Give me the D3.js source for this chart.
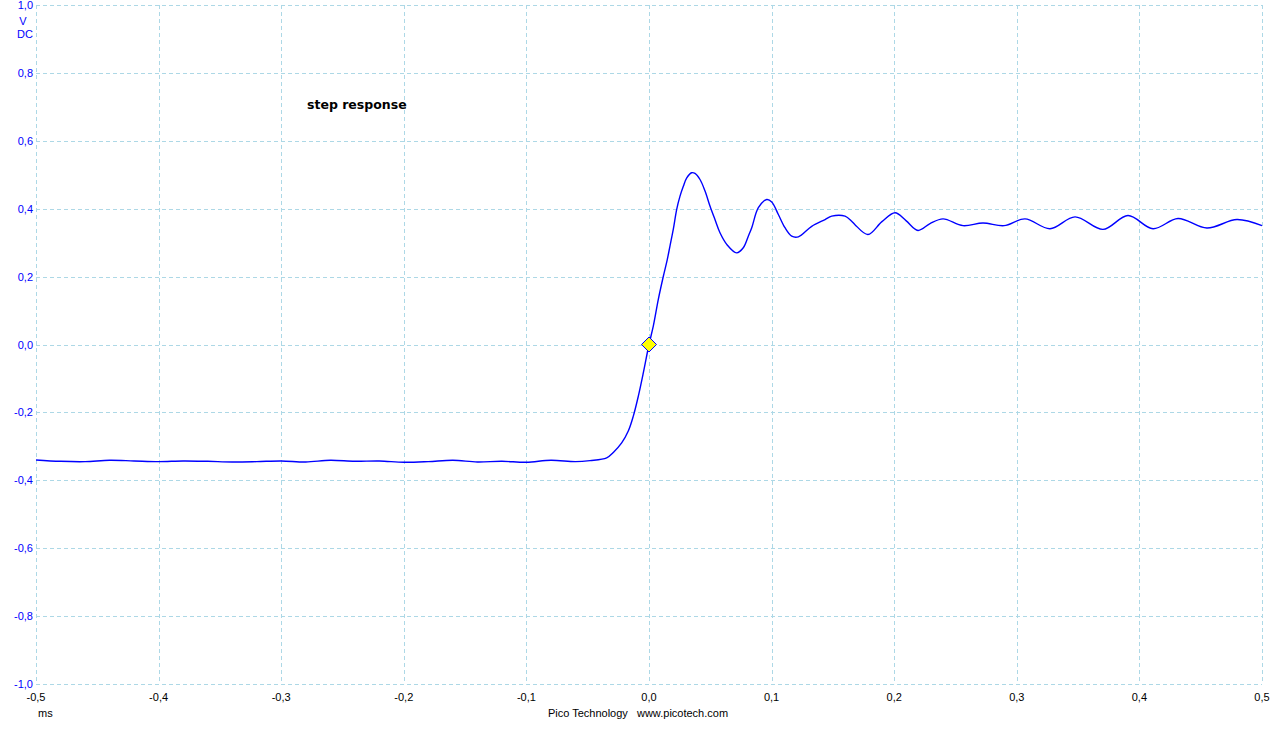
<!DOCTYPE html>
<html>
<head>
<meta charset="utf-8">
<script src="https://cdn.jsdelivr.net/npm/d3@7"></script>
<style>
html,body{margin:0;padding:0;background:#fff;}
svg{display:block;}
</style>
</head>
<body>
<svg id="chart" width="1280" height="732"></svg>
<script>
// ---- data (time in ms, voltage in V) ----
const timeMs = [
  -0.5,-0.48,-0.46,-0.44,-0.42,-0.40,-0.38,-0.36,-0.34,-0.32,-0.30,-0.28,-0.26,-0.24,-0.22,-0.20,
  -0.18,-0.16,-0.14,-0.12,-0.10,-0.08,-0.06,-0.0481,
  -0.0345,-0.0291,-0.0223,-0.0169,-0.0128,-0.0087,-0.0046,0,0.0035,0.0076,0.0117,0.0149,0.0171,
  0.0198,0.0226,0.0253,0.0280,0.0308,0.0348,0.0375,0.0416,0.0457,0.0498,0.0538,0.0579,0.0634,
  0.0715,0.0769,0.0810,0.0838,0.0892,0.0960,0.1001,0.1055,0.1109,0.1164,0.1218,0.1327,0.1436,
  0.1490,0.1599,0.1653,0.1680,0.1786,0.190,0.2007,0.2096,0.2194,0.2292,0.2398,0.2561,0.2724,
  0.2896,0.3067,0.3271,0.3475,0.3703,0.3907,0.4111,0.4315,0.4551,0.4796,0.5
];
const voltage = [
  -0.340,-0.344,-0.345,-0.341,-0.343,-0.345,-0.343,-0.344,-0.346,-0.345,-0.343,-0.346,-0.341,-0.344,-0.343,-0.347,
  -0.345,-0.341,-0.346,-0.344,-0.347,-0.341,-0.345,-0.342,
  -0.334,-0.318,-0.290,-0.255,-0.211,-0.152,-0.083,0.000,0.054,0.133,0.201,0.250,0.290,
  0.339,0.398,0.437,0.466,0.491,0.506,0.504,0.486,0.452,0.407,0.368,0.329,0.295,
  0.270,0.285,0.319,0.344,0.403,0.427,0.420,0.383,0.344,0.319,0.317,0.348,0.368,
  0.378,0.378,0.363,0.353,0.324,0.362,0.388,0.365,0.336,0.356,0.370,0.350,0.358,
  0.350,0.370,0.341,0.376,0.339,0.380,0.341,0.371,0.343,0.368,0.350
];
const xTicks = [-0.5,-0.4,-0.3,-0.2,-0.1,0.0,0.1,0.2,0.3,0.4,0.5];
const yTicks = [-1.0,-0.8,-0.6,-0.4,-0.2,0.0,0.2,0.4,0.6,0.8,1.0];
const triggerPoint = [{t:0, v:0}];
const chartTitle = "step response";
const xUnit = "ms";
const yUnitLines = ["V","DC"];
const footer = "Pico Technology   www.picotech.com";

// ---- layout ----
const L = 36, R = 1262, T = 5, B = 684;
const svg = d3.select("#chart");
const x = d3.scaleLinear().domain([-0.5,0.5]).range([L,R]);
const y = d3.scaleLinear().domain([-1,1]).range([B,T]);
const fmt = d => d3.format(".1f")(d).replace(".", ",").replace("−","-");
const font = "'Liberation Sans', Arial, sans-serif";
const grid = "#add8e6";

// grid
const g = svg.append("g");
g.selectAll("line.vx").data(xTicks).join("line")
  .attr("x1", d => Math.round(x(d)) + 0.5).attr("x2", d => Math.round(x(d)) + 0.5)
  .attr("y1", T).attr("y2", B)
  .attr("stroke", grid).attr("stroke-width", 1).attr("stroke-dasharray", "4,3");
g.selectAll("line.hy").data(yTicks).join("line")
  .attr("y1", d => Math.round(y(d)) + 0.5).attr("y2", d => Math.round(y(d)) + 0.5)
  .attr("x1", L).attr("x2", R)
  .attr("stroke", grid).attr("stroke-width", 1).attr("stroke-dasharray", "4,3");

// y labels
svg.append("g").selectAll("text").data(yTicks).join("text")
  .attr("x", 33).attr("y", d => y(d) + 4)
  .attr("text-anchor", "end").attr("fill", "#0000ff")
  .style("font-family", font).style("font-size", "11px")
  .text(d => fmt(d));
yUnitLines.forEach((s, i) => {
  svg.append("text").attr("x", i === 0 ? 23 : 33).attr("y", 25 + i * 13)
    .attr("text-anchor", i === 0 ? "middle" : "end").attr("fill", "#0000ff")
    .style("font-family", font).style("font-size", "11px").text(s);
});

// x labels
svg.append("g").selectAll("text").data(xTicks).join("text")
  .attr("x", d => x(d)).attr("y", 701)
  .attr("text-anchor", "middle").attr("fill", "#000")
  .style("font-family", font).style("font-size", "11px")
  .text(d => fmt(d));
svg.append("text").attr("x", 38).attr("y", 717)
  .style("font-family", font).style("font-size", "11px").attr("fill", "#000").text(xUnit);
svg.append("text").attr("x", 638).attr("y", 717).attr("text-anchor", "middle")
  .style("font-family", font).style("font-size", "11px").attr("fill", "#000")
  .attr("xml:space", "preserve").style("white-space", "pre").text(footer);

// title
svg.append("text").attr("x", 307).attr("y", 109)
  .style("font-family", "'DejaVu Sans', Verdana, sans-serif").style("font-size", "12.5px")
  .style("font-weight", "bold").attr("fill", "#000").text(chartTitle);

// waveform
const pts = timeMs.map((t, i) => ({t, v: voltage[i]}));
const line = d3.line().x(d => x(d.t)).y(d => y(d.v)).curve(d3.curveCatmullRom.alpha(0.5));
svg.append("path").datum(pts).attr("d", line)
  .attr("fill", "none").attr("stroke", "#0000ff").attr("stroke-width", 1.4);

// trigger marker
svg.selectAll("path.trig").data(triggerPoint).join("path")
  .attr("transform", d => `translate(${x(d.t)},${y(d.v)})`)
  .attr("d", "M0,-7.5L7.5,0L0,7.5L-7.5,0Z")
  .attr("fill", "#ffff00").attr("stroke", "#0000ff").attr("stroke-width", 1);
</script>
</body>
</html>
